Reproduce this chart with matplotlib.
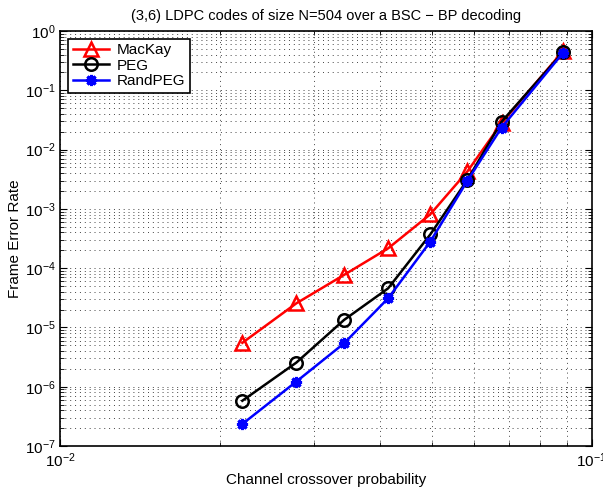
import numpy as np
import matplotlib
matplotlib.use("Agg")
import matplotlib.pyplot as plt
from matplotlib.ticker import NullFormatter

plt.rcParams['font.family'] = ['Liberation Sans', 'DejaVu Sans']
plt.rcParams['mathtext.fontset'] = 'custom'
plt.rcParams['mathtext.rm'] = 'Liberation Sans'
plt.rcParams['mathtext.it'] = 'Liberation Sans'
plt.rcParams['mathtext.default'] = 'regular'

# Channel crossover probabilities
p = [0.022, 0.0278, 0.0342, 0.0414, 0.0497, 0.0584, 0.0677, 0.0884]

# Frame error rates
fer_mackay = [5.5e-6, 2.55e-5, 7.7e-5, 2.16e-4, 8.1e-4, 4.3e-3, 0.028, 0.46]
fer_peg = [5.8e-7, 2.55e-6, 1.34e-5, 4.57e-5, 3.7e-4, 3.1e-3, 0.0295, 0.44]
fer_randpeg = [2.35e-7, 1.22e-6, 5.4e-6, 3.1e-5, 2.8e-4, 3.0e-3, 0.0235, 0.43]

fig = plt.figure(figsize=(6.03, 4.93), dpi=100)
ax = fig.add_axes([0.1003, 0.0953, 0.8807, 0.8418])

ax.loglog(p, fer_mackay, color='red', lw=1.8, marker='^', ms=10,
          mfc='none', mec='red', mew=1.8, label='MacKay')
ax.loglog(p, fer_peg, color='black', lw=1.8, marker='o', ms=9,
          mfc='none', mec='black', mew=1.8, label='PEG')
ax.loglog(p, fer_randpeg, color='blue', lw=1.8, marker=(8, 2, 0), ms=8,
          mec='blue', mew=2.2, label='RandPEG')

ax.set_xlim(1e-2, 1e-1)
ax.set_ylim(1e-7, 1e0)
ax.xaxis.set_minor_formatter(NullFormatter())
ax.yaxis.set_minor_formatter(NullFormatter())

dots = (0, (1, 4))
ax.grid(True, which='major', linestyle=dots, color='#444444', lw=0.7)
ax.grid(True, which='minor', linestyle=dots, color='#444444', lw=0.7)
ax.tick_params(which='both', direction='in', top=True, right=True, labelsize=11)
ax.tick_params(which='major', length=5)
ax.tick_params(which='minor', length=3)
ax.tick_params(axis='x', pad=4)
for s in ax.spines.values():
    s.set_linewidth(1.2)

ax.set_xlabel('Channel crossover probability', fontsize=11, labelpad=2)
ax.set_ylabel('Frame Error Rate', fontsize=11, labelpad=2)
ax.set_title('(3,6) LDPC codes of size N=504 over a BSC \u2212 BP decoding', fontsize=10.5, pad=8)

leg = ax.legend(loc='upper left', fontsize=11, fancybox=False, framealpha=1,
                edgecolor='black', handlelength=2.4, borderaxespad=0.5,
                labelspacing=0.1, borderpad=0.3, handletextpad=0.5)
leg.get_frame().set_linewidth(1.2)

fig.savefig('out.png', dpi=100)
